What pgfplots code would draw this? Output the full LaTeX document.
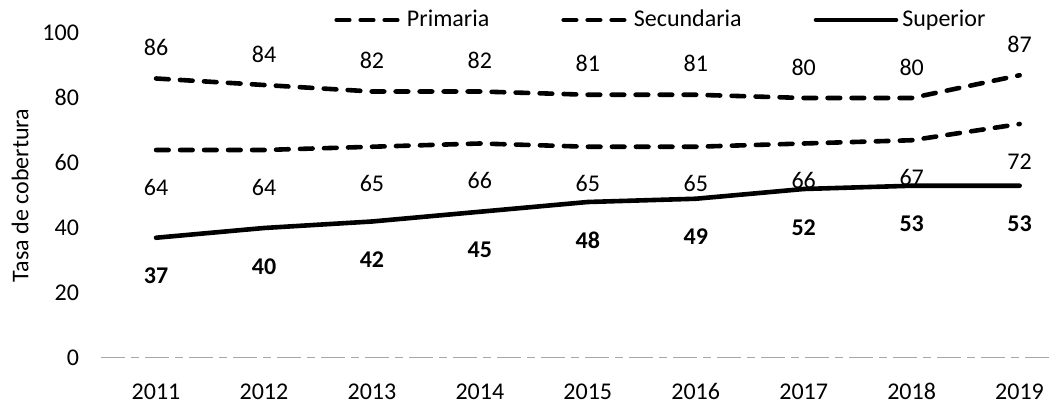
\documentclass[border=0pt]{standalone}
\usepackage{pgfplots}
\pgfplotsset{compat=1.18}
\usepackage{fontspec}
\setmainfont{Carlito}
\pgfkeys{/pgf/number format/assume math mode=true}
\begin{document}
\begin{tikzpicture}
\begin{axis}[
  name=ax,
  scale only axis,
  width=475.5pt, height=162.5pt,
  xmin=2010.49, xmax=2019.3,
  ymin=0, ymax=100,
  clip=false,
  axis line style={draw=none},
  major tick length=0pt,
  xtick={2011,...,2019},
  ytick={0,20,...,100},
  xticklabel style={/pgf/number format/1000 sep={}, anchor=center, yshift=-17pt, text height=1.5ex, text depth=0pt},
  yticklabel style={anchor=east, xshift=-7.5pt, text height=1.5ex, text depth=0pt},
  tick label style={font=\fontsize{12}{14}\selectfont},
  ylabel={Tasa de cobertura},
  ylabel style={at={(axis description cs:-0.085,0.5)}, anchor=center, font=\fontsize{12}{14}\selectfont},
  legend columns=3,
  legend style={at={(axis description cs:0.245,1)}, anchor=west, yshift=6.5pt,
    draw=none, fill=none, inner sep=0pt, font=\fontsize{12}{14}\selectfont,
    /tikz/every even column/.append style={column sep=34pt}},
  legend image code/.code={\draw[#1] (0pt,0pt) -- (32pt,0pt);},
  nodes near coords={\pgfmathprintnumber{\pgfplotspointmeta}},
  point meta=y,
]
\addplot[black, line width=2.3pt, line cap=round, dash pattern=on 6.3pt off 5.7pt,
  every node near coord/.append style={anchor=center, yshift=15pt, font=\fontsize{12}{14}\selectfont, black, text height=1.5ex, text depth=0pt}]
  coordinates {(2011,86) (2012,84) (2013,82) (2014,82) (2015,81) (2016,81) (2017,80) (2018,80) (2019,87)};
\addlegendentry{Primaria}
\addplot[black, line width=2.3pt, line cap=round, dash pattern=on 6.3pt off 5.7pt,
  every node near coord/.append style={anchor=center, yshift=-19pt, font=\fontsize{12}{14}\selectfont, black, text height=1.5ex, text depth=0pt}]
  coordinates {(2011,64) (2012,64) (2013,65) (2014,66) (2015,65) (2016,65) (2017,66) (2018,67) (2019,72)};
\addlegendentry{Secundaria}
\addplot[black, line width=2.3pt, line cap=round,
  legend image code/.code={\draw[black, line width=2.3pt, line cap=round] (0pt,0pt) -- (40pt,0pt);},
  every node near coord/.append style={anchor=center, yshift=-19.5pt, font=\fontsize{12}{14}\selectfont\bfseries, black, text height=1.5ex, text depth=0pt}]
  coordinates {(2011,37) (2012,40) (2013,42) (2014,45) (2015,48) (2016,49) (2017,52) (2018,53) (2019,53)};
\addlegendentry{Superior}
\addplot[gray!70, line width=0.5pt, dash pattern=on 12pt off 3pt on 4pt off 3pt, forget plot, nodes near coords={}]
  coordinates {(2010.49,0) (2019.3,0)};
\end{axis}
\pgfresetboundingbox
\path ([shift={(-50.5pt,-27pt)}]ax.south west) rectangle ([shift={(2pt,16.5pt)}]ax.north east);
\end{tikzpicture}
\end{document}
